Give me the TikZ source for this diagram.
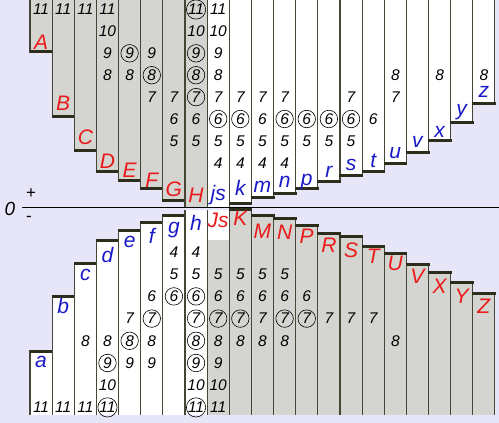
\documentclass[tikz,border=0pt]{standalone}
\usepackage{fontspec}
\setmainfont{Liberation Sans}
\definecolor{bg}{RGB}{230,230,248}
\definecolor{barg}{RGB}{212,212,208}
\definecolor{edgec}{RGB}{70,70,55}
\definecolor{bandc}{RGB}{45,45,28}
\definecolor{lred}{RGB}{235,25,25}
\definecolor{lblue}{RGB}{25,25,200}
\begin{document}
\begin{tikzpicture}[x=1pt,y=-1pt,
  num/.style={font=\fontsize{15.5}{15.5}\selectfont\itshape, inner sep=0pt},
  circnum/.style={num, circle, draw=black, line width=0.6pt, minimum size=17.5pt},
  lab/.style={font=\fontsize{21}{21}\selectfont\itshape, inner sep=0pt, anchor=base},
  edgeline/.style={draw=edgec, line width=1.1pt},
  axisline/.style={draw=black, line width=1.4pt}]
\fill[bg] (0,0) rectangle (499,423);
\useasboundingbox (0,0) rectangle (499,423);
% upper bars
\foreach \i/\b/\f/\bd in {0/53/barg/1,1/118/barg/1,2/152/barg/1,3/173/barg/1,4/182/barg/1,5/190/barg/1,6/202/barg/1,7/207/barg/0,8/207/white/0,9/205/white/1,10/199/white/1,11/195/white/1,12/190/white/1,13/183/white/1,14/177/white/1,15/173/white/1,16/165/white/1,17/154/white/1,18/142/white/1,19/124/white/1,20/105/white/1}{
  \pgfmathsetmacro\xl{30+22.14*\i}
  \pgfmathsetmacro\xr{\xl+22.14}
  \fill[\f] (\xl,0) rectangle (\xr,\b);
  \draw[edgeline] (\xl,0) -- (\xl,\b) (\xr,0) -- (\xr,\b);
  \ifnum\bd=1 \fill[bandc] ({\xl-0.5},{\b-3}) rectangle ({\xr+1},\b); \fi
}
% lower bars
\foreach \i/\t/\f/\bd in {0/350/white/1,1/295/white/1,2/262/white/1,3/239/white/1,4/229/white/1,5/221/white/1,6/214/white/1,7/210/white/0,8/240/barg/0,9/208/barg/1,10/214/barg/1,11/217/barg/1,12/224/barg/1,13/232/barg/1,14/235/barg/1,15/245/barg/1,16/252/barg/1,17/263/barg/1,18/271/barg/1,19/281/barg/1,20/292/barg/1}{
  \pgfmathsetmacro\xl{30+22.14*\i}
  \pgfmathsetmacro\xr{\xl+22.14}
  \ifnum\i=8 \fill[white] (\xl,210) rectangle (\xr,\t); \fi
  \fill[\f] (\xl,\t) rectangle (\xr,415);
  \ifnum\i=8 \draw[edgeline] (\xl,210) -- (\xl,415) (\xr,210) -- (\xr,415);
  \else \draw[edgeline] (\xl,\t) -- (\xl,415) (\xr,\t) -- (\xr,415); \fi
  \ifnum\bd=1 \fill[bandc] ({\xl-0.5},\t) rectangle ({\xr+1},{\t+3}); \fi
}
% axis
\coordinate (axL) at (22,207.5);
\coordinate (axR) at (499,207.5);
\draw[axisline] (axL) -- (axR);
\node[font=\fontsize{19}{19}\selectfont\itshape, inner sep=0pt] (zero) at (10,209) {0};
\node[font=\fontsize{17}{17}\selectfont, inner sep=0pt] (plus) at (31,194) {+};
\node[font=\fontsize{17}{17}\selectfont, inner sep=0pt] (minus) at (29,219) {-};
% upper numbers
\foreach \i/\n in {0/11,1/11,2/11,3/11,3/10,3/9,3/8,4/8,5/9,5/7,6/7,6/6,6/5,7/10,7/6,7/5,8/11,8/10,8/9,8/8,8/7,8/5,8/4,9/7,9/5,9/4,10/7,10/6,10/5,10/4,11/7,11/5,11/4,12/5,13/5,14/7,14/5,15/6,16/8,16/7,18/8,20/8}{
  \node[num] (u\i-\n) at ({30+22.14*(\i+0.5)},{9.5+(11-\n)*21.9}) {\n};
}
\foreach \i/\n in {4/9,5/8,7/11,7/9,7/8,7/7,8/6,9/6,11/6,12/6,13/6,14/6}{
  \node[circnum] (u\i-\n) at ({30+22.14*(\i+0.5)},{9.5+(11-\n)*21.9}) {\n};
}
% lower numbers
\foreach \i/\n in {0/11,1/11,2/8,2/11,3/8,3/10,4/7,4/9,5/6,5/8,5/9,6/4,6/5,7/4,7/5,7/10,8/5,8/6,8/8,8/9,8/10,8/11,9/5,9/6,9/8,10/5,10/6,10/7,10/8,11/5,11/6,11/8,12/6,13/7,14/7,15/7,16/8}{
  \node[num] (l\i-\n) at ({30+22.14*(\i+0.5)},{252+(\n-4)*22.2}) {\n};
}
\foreach \i/\n in {3/9,3/11,4/8,5/7,6/6,7/6,7/7,7/8,7/9,7/11,8/7,9/7,11/7,12/7}{
  \node[circnum] (l\i-\n) at ({30+22.14*(\i+0.5)},{252+(\n-4)*22.2}) {\n};
}
% upper labels
\foreach \i/\s/\c/\y in {0/A/lred/49,1/B/lred/110,2/C/lred/144,3/D/lred/168,4/E/lred/177,5/F/lred/187,6/G/lred/196,7/H/lred/202,8/js/lblue/200,9/k/lblue/195,10/m/lblue/192,11/n/lblue/187,12/p/lblue/185,13/r/lblue/177,14/s/lblue/170,15/t/lblue/167,16/u/lblue/158,17/v/lblue/147,18/x/lblue/137,19/y/lblue/115,20/z/lblue/97}{
  \node[lab, text=\c] (U\i) at ({30+22.14*(\i+0.5)},\y) {\s};
}
% lower labels
\foreach \i/\s/\c/\y in {0/a/lblue/367,1/b/lblue/313,2/c/lblue/280,3/d/lblue/262,4/e/lblue/247,5/f/lblue/243,6/g/lblue/233,7/h/lblue/230,8/Js/lred/227,9/K/lred/225,10/M/lred/238,11/N/lred/239,12/P/lred/243,13/R/lred/252,14/S/lred/257,15/T/lred/263,16/U/lred/270,17/V/lred/283,18/X/lred/293,19/Y/lred/303,20/Z/lred/313}{
  \node[lab, text=\c] (L\i) at ({30+22.14*(\i+0.5)},\y) {\s};
}
\end{tikzpicture}
\end{document}
